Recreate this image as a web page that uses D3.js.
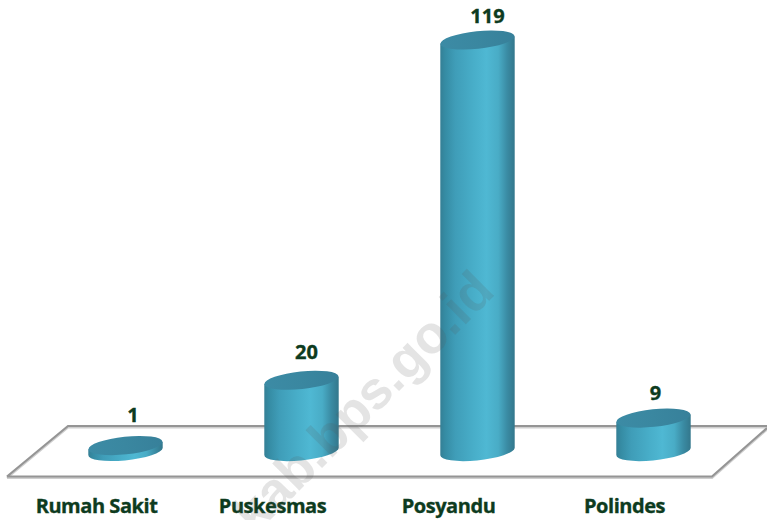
<!DOCTYPE html>
<html><head><meta charset="utf-8">
<script src="https://cdnjs.cloudflare.com/ajax/libs/d3/7.8.5/d3.min.js"></script>
<style>html,body{margin:0;padding:0;background:#fff}svg{display:block}</style>
</head><body><svg id="c" width="767" height="520"></svg>
<script>
const categories = ["Rumah Sakit","Puskesmas","Posyandu","Polindes"];
const values = [1,20,119,9];
const watermark = "kab.bps.go.id";

const svg = d3.select("#c");
const x = d3.scalePoint().domain(categories).range([125.5,653.5]);
const y = d3.scaleLinear().domain([0,119]).range([449,40]);
const A=37.2, B=8.8, ROT=-6, DY=3.6;

const defs = svg.append("defs");
const g = defs.append("linearGradient").attr("id","side");
[[0,"#357f95"],[0.06,"#358ba3"],[0.2,"#3f9db8"],[0.45,"#48aec9"],[0.62,"#4fb8d3"],[0.78,"#49acc6"],[0.9,"#3a8ba3"],[1,"#33778c"]]
  .forEach(s=>g.append("stop").attr("offset",s[0]).attr("stop-color",s[1]));
const t = defs.append("linearGradient").attr("id","top");
[[0,"#3c8ba5"],[0.5,"#3a87a0"],[1,"#37809a"]]
  .forEach(s=>t.append("stop").attr("offset",s[0]).attr("stop-color",s[1]));

// floor
const floor = "M7,476.5 L68,426 L767,426 M767,428 L712,476.5 L7,476.5";
svg.append("path").attr("d",floor).attr("transform","translate(0,1.3)")
  .attr("fill","none").attr("stroke","#cfcfcf").attr("stroke-width",2.4);
svg.append("path").attr("d",floor).attr("fill","none").attr("stroke","#959595").attr("stroke-width",2.2);

// cylinders
const rows = categories.map((c,i)=>({c,v:values[i]}));
const bars = svg.append("g").selectAll("g").data(rows).join("g");
bars.append("path").attr("fill","url(#side)").attr("d",d=>{
  const cx=x(d.c), ty=y(d.v), by=y(0);
  return `M${cx-A},${ty+DY} L${cx-A},${by+DY+2.5} A${A} ${B} ${ROT} 0 0 ${cx+A},${by-DY+2.5} L${cx+A},${ty-DY} L${cx-A},${ty+DY} Z`;
});
bars.append("ellipse").attr("fill","url(#top)")
  .attr("rx",A).attr("ry",B)
  .attr("transform",d=>`translate(${x(d.c)},${y(d.v)}) rotate(${ROT})`);

// value labels
const font = "'Open Sans','Noto Sans',sans-serif";
const valueNudge = {"Rumah Sakit":[7.5,-24],"Puskesmas":[5,-21],"Posyandu":[10,-17],"Polindes":[2,-18]};
svg.append("g").selectAll("text").data(rows).join("text")
  .attr("x",d=>x(d.c)+valueNudge[d.c][0]).attr("y",d=>y(d.v)+valueNudge[d.c][1])
  .attr("text-anchor","middle").attr("font-family",font).attr("font-weight",700).attr("font-size",20)
  .attr("fill","#0d3b20").attr("stroke","#0d3b20").attr("stroke-width",0.35).text(d=>d.v);

// category axis
const ax = svg.append("g").attr("transform","translate(-29.5,494)")
  .call(d3.axisBottom(x).tickSize(0).tickPadding(0));
ax.select(".domain").remove();
ax.selectAll("text").attr("font-family",font).attr("font-weight",700).attr("font-size",20)
  .attr("fill","#0d3b20").attr("stroke","#0d3b20").attr("stroke-width",0.35)
  .attr("dy",0).attr("y",19).style("letter-spacing","-0.45px");

// watermark
svg.append("text").attr("transform","translate(255,535) rotate(-45)")
  .attr("font-family","'Liberation Sans',Arial,sans-serif").attr("font-weight",700).attr("font-size",53)
  .attr("fill","#555").attr("fill-opacity",0.16).text(watermark);
</script></body></html>
